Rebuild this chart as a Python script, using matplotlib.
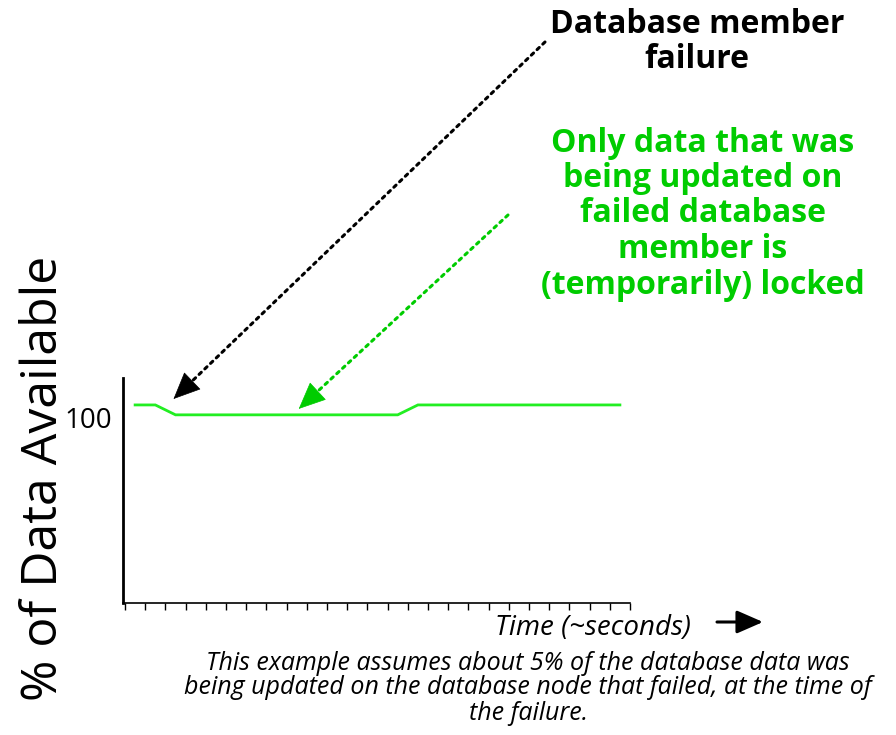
import numpy as np
import matplotlib.pyplot as plt
import matplotlib.transforms as mtransforms

plt.rcParams['font.family'] = ['Open Sans', 'DejaVu Sans']

# schematic availability curve (time in ~seconds, % available)
time_s = [0.5, 1.5, 2.5, 13.5, 14.5, 24.5]
available = [100, 100, 95, 95, 100, 100]
n_ticks = 26
y_ticks = [100]
y_tick_labels = ['100']

green_line = '#22ee22'
green_text = '#00cc00'

fig = plt.figure(figsize=(8.96, 7.35), dpi=100)
ax = fig.add_axes([123 / 896, 1 - 603 / 735, 507 / 896, 225 / 735])

ax.plot(time_s, available, color=green_line, lw=2, solid_joinstyle='miter')

ax.set_xlim(-0.1, n_ticks - 1)
ax.set_ylim(0, 113.6)
ax.set_xticks(range(n_ticks))
ax.set_xticklabels([])
ax.set_yticks(y_ticks)
ax.set_yticklabels(y_tick_labels, fontsize=20)
ax.tick_params(axis='y', length=0, pad=8)
ax.tick_params(axis='x', direction='out', length=5, width=1)
for lbl in ax.get_yticklabels():
    lbl.set_transform(lbl.get_transform() + mtransforms.ScaledTranslation(0, -9 / 72, fig.dpi_scale_trans))
for side in ['top', 'right']:
    ax.spines[side].set_visible(False)
ax.spines['left'].set_linewidth(2)
ax.spines['bottom'].set_linewidth(1.2)

# y label sits a bit higher than the axes centre in the original
fig.text(44 / 896, 1 - 478 / 735, '% of Data Available', rotation=90, ha='center', va='center',
         fontsize=36)

# annotations
fig.text(697 / 896, 1 - 42 / 735, 'Database member\nfailure', ha='center', va='center',
         fontsize=23, fontweight='bold', color='black', linespacing=1.1)
fig.text(703 / 896, 1 - 214 / 735,
         'Only data that was\nbeing updated on\nfailed database\nmember is\n(temporarily) locked',
         ha='center', va='center', fontsize=23, fontweight='bold', color=green_text, linespacing=1.1)


def dotted_arrow(tip_data, start_px, color):
    # dotted shaft plus a solid head, positions in figure pixels
    tip = ax.transData.transform(tip_data)
    start = np.array(start_px, dtype=float)
    d = tip - start
    d = d / np.hypot(*d)
    neck = tip - d * 18
    shaft = ax.annotate('', xy=neck, xycoords='figure pixels', xytext=start, textcoords='figure pixels',
                        arrowprops=dict(arrowstyle='-', color=color, lw=2.2,
                                        shrinkA=0, shrinkB=0), annotation_clip=False)
    shaft.arrow_patch.set_linestyle((0, (1, 1.6)))
    ax.annotate('', xy=tip, xycoords='figure pixels', xytext=neck - d * 2, textcoords='figure pixels',
                arrowprops=dict(arrowstyle='-|>,head_length=0.9,head_width=0.4', color=color, lw=0.5,
                                mutation_scale=20, shrinkA=0, shrinkB=0), annotation_clip=False)


dotted_arrow((2.4, 103), (545, 735 - 42), 'black')
dotted_arrow((8.6, 98), (508, 735 - 215), green_text)

fig.text(593 / 896, 1 - 628 / 735, 'Time (~seconds)', ha='center', va='center',
         fontsize=20, style='italic')
ax.annotate('', xy=(763 / 896, 1 - 622 / 735), xycoords='figure fraction',
            xytext=(717 / 896, 1 - 622 / 735), textcoords='figure fraction',
            arrowprops=dict(arrowstyle='-|>,head_length=0.8,head_width=0.35', color='black', lw=2.2,
                            mutation_scale=20, shrinkA=0, shrinkB=0))

fig.text(528 / 896, 1 - 688 / 735,
         'This example assumes about 5% of the database data was\n'
         'being updated on the database node that failed, at the time of\n'
         'the failure.',
         ha='center', va='center', fontsize=18, style='italic', linespacing=1.0)

fig.savefig('out.png', dpi=100)
